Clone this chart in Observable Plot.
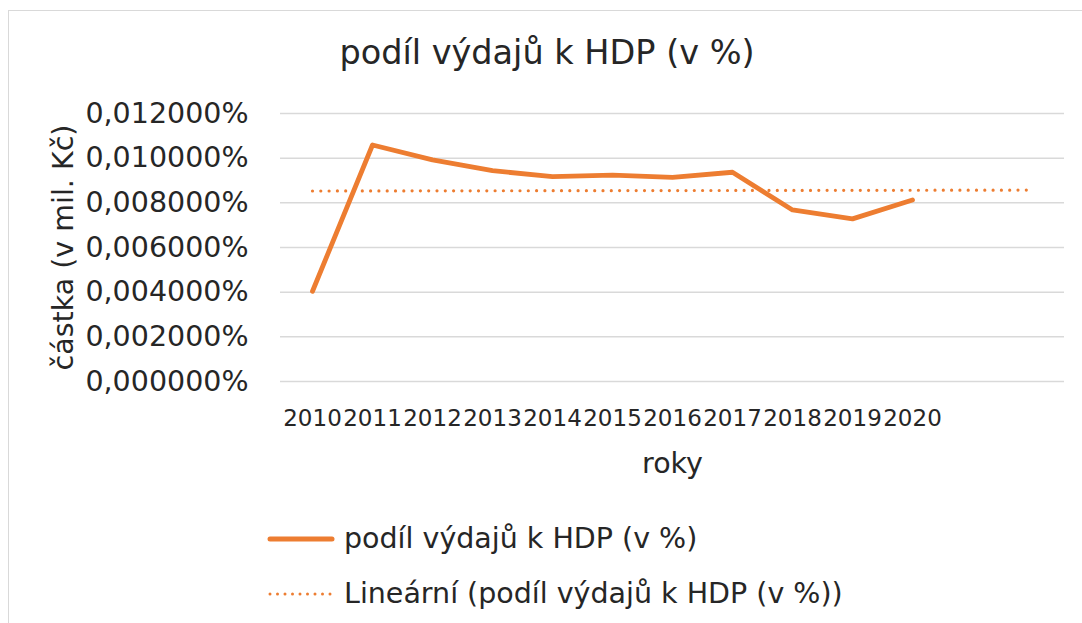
<!DOCTYPE html>
<html>
<head>
<meta charset="utf-8">
<script src="https://cdn.jsdelivr.net/npm/d3@7"></script>
<script src="https://cdn.jsdelivr.net/npm/@observablehq/plot@0.6"></script>
<style>
  html, body { margin: 0; padding: 0; background: #fff; }
  #wrap { position: relative; width: 1082px; height: 623px; overflow: hidden; font-family: "DejaVu Sans", sans-serif; color: #262626; }
  #frame { position: absolute; left: 8px; top: 10px; width: 1200px; height: 700px; border-left: 1.5px solid #d9d9d9; border-top: 1.5px solid #d9d9d9; }
  #title { position: absolute; left: 0; width: 1094px; top: 33px; text-align: center; font-size: 33.5px; line-height: 40px; white-space: nowrap; }
  .leg { position: absolute; left: 266px; font-size: 28.5px; line-height: 36px; white-space: nowrap; display: flex; align-items: center; }
  .leg svg { margin-right: 8px; }
  #chart { position: absolute; left: 0; top: 0; }
</style>
</head>
<body>
<div id="wrap">
  <div id="frame"></div>
  <div id="chart"></div>
  <div id="title"></div>
  <div class="leg" id="leg1" style="top:521px"></div>
  <div class="leg" id="leg2" style="top:576px"></div>
</div>
<script>
// ---- data ----
const years = ["2010","2011","2012","2013","2014","2015","2016","2017","2018","2019","2020"];
const values = [0.00404, 0.01059, 0.00992, 0.00944, 0.00917, 0.00924, 0.00914, 0.00937, 0.00768, 0.00728, 0.00813];
const axisCategories = ["2010","2011","2012","2013","2014","2015","2016","2017","2018","2019","2020","2021","2022"];
const trendYears = ["2010", "2022"];
const trendValues = [0.00853, 0.00857];
const yTicks = [0, 0.002, 0.004, 0.006, 0.008, 0.010, 0.012];
const titleText = "podíl výdajů k HDP (v %)";
const seriesName = "podíl výdajů k HDP (v %)";
const trendName = "Lineární (podíl výdajů k HDP (v %))";
const xLabel = "roky";
const yLabel = "částka (v mil. Kč)";

const orange = "#ED7D31";
const series = years.map((y, i) => ({year: y, value: values[i]}));
const trend = trendYears.map((y, i) => ({year: y, value: trendValues[i]}));
const fmt = d => d.toFixed(6).replace(".", ",") + "%";

const chart = Plot.plot({
  width: 1082,
  height: 623,
  marginLeft: 280,
  marginRight: 18,
  marginTop: 113,
  marginBottom: 242,
  style: {fontFamily: "DejaVu Sans, sans-serif", color: "#262626", background: "transparent", overflow: "visible"},
  x: {type: "point", domain: axisCategories, padding: 0.5},
  y: {domain: [0, 0.012]},
  marks: [
    Plot.ruleY(yTicks, {stroke: "#d9d9d9", strokeWidth: 1.5}),
    Plot.axisY({ticks: yTicks, tickFormat: fmt, tickSize: 0, tickPadding: 32, fontSize: 28.5,
      label: yLabel, labelAnchor: "center", labelOffset: 228, labelArrow: "none"}),
    Plot.axisX({tickSize: 0, tickPadding: 28, fontSize: 23, tickFormat: d => years.includes(d) ? d : "",
      label: xLabel, labelAnchor: "center", labelOffset: 91, labelArrow: "none"}),
    Plot.line(trend, {x: "year", y: "value", stroke: orange, strokeWidth: 3.2, strokeDasharray: "0 8.3", strokeLinecap: "round"}),
    Plot.line(series, {x: "year", y: "value", stroke: orange, strokeWidth: 4.8, strokeLinecap: "round", strokeLinejoin: "round"})
  ]
});
d3.select(chart).selectAll("g[aria-label='y-axis label'] text, g[aria-label='x-axis label'] text").attr("font-size", 28.5).attr("fill", "#262626");
d3.select(chart).selectAll("g[aria-label='y-axis tick label'] text, g[aria-label='x-axis tick label'] text").attr("fill", "#262626");
document.getElementById("chart").appendChild(chart);

document.getElementById("title").textContent = titleText;
const leg1 = document.getElementById("leg1");
leg1.innerHTML = `<svg width="70" height="12"><line x1="4" y1="6" x2="66" y2="6" stroke="${orange}" stroke-width="5" stroke-linecap="round"/></svg><span></span>`;
leg1.querySelector("span").textContent = seriesName;
const leg2 = document.getElementById("leg2");
leg2.innerHTML = `<svg width="70" height="12"><line x1="4" y1="6" x2="66" y2="6" stroke="${orange}" stroke-width="3" stroke-dasharray="0 7.5" stroke-linecap="round"/></svg><span></span>`;
leg2.querySelector("span").textContent = trendName;
</script>
</body>
</html>
